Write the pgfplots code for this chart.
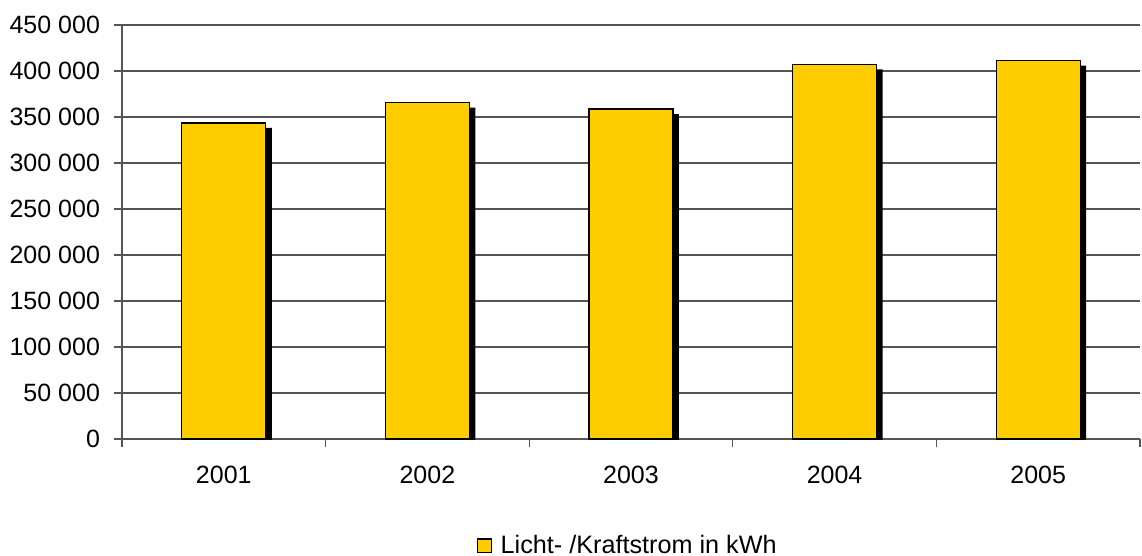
\documentclass[border=0pt]{standalone}
\usepackage{fontspec}
\setmainfont{Liberation Sans}
\usepackage{pgfplots}
\pgfplotsset{compat=1.18}
\definecolor{baryellow}{HTML}{FFCC00}
\definecolor{gridgray}{HTML}{555555}
\begin{document}
\begin{tikzpicture}
\useasboundingbox (-61bp,-58.5bp) rectangle (510bp,219.5bp);
\begin{axis}[
  at={(0,0)}, anchor=south west,
  scale only axis, width=509bp, height=207bp,
  xmin=-0.5, xmax=4.5, ymin=0, ymax=450000,
  scaled y ticks=false,
  axis x line*=bottom, axis y line*=left,
  axis line style={gridgray, line width=0.6bp},
  xtick={0,1,2,3,4},
  xticklabels={2001,2002,2003,2004,2005},
  minor xtick={-0.5,0.5,1.5,2.5,3.5,4.5},
  major x tick style={draw=none},
  minor x tick style={draw=gridgray, line width=0.6bp},
  ytick={0,50000,100000,150000,200000,250000,300000,350000,400000,450000},
  yticklabels={0,50 000,100 000,150 000,200 000,250 000,300 000,350 000,400 000,450 000},
  major y tick style={draw=gridgray, line width=0.6bp},
  tick align=outside,
  major tick length=4bp, minor tick length=4bp,
  ymajorgrids,
  major grid style={gridgray, line width=0.6bp},
  tick label style={font=\fontsize{12.5bp}{15bp}\selectfont},
  xticklabel style={yshift=-6bp},
  yticklabel style={xshift=-3.5bp},
  legend style={at={(0.4976,-0.258)}, anchor=center, draw=none, fill=none,
    font=\fontsize{12.6bp}{15bp}\selectfont},
  legend image code/.code={\draw[fill=baryellow,draw=black,line width=0.6bp] (0bp,-3.4bp) rectangle (7bp,3.4bp);},
]
\addplot[ybar, bar width=42bp, bar shift=0pt, fill=black, draw=none,
  xshift=3bp, yshift=-2.5bp, forget plot]
  coordinates {(0,343500) (1,365500) (2,358700) (3,407300) (4,411200)};
\addplot[ybar, bar width=42bp, bar shift=0pt, fill=baryellow, draw=black, line width=0.6bp]
  coordinates {(0,343500) (1,365500) (2,358700) (3,407300) (4,411200)};
\addlegendentry{\hspace{2.5bp}Licht- /Kraftstrom in kWh}
\end{axis}
\end{tikzpicture}
\end{document}
